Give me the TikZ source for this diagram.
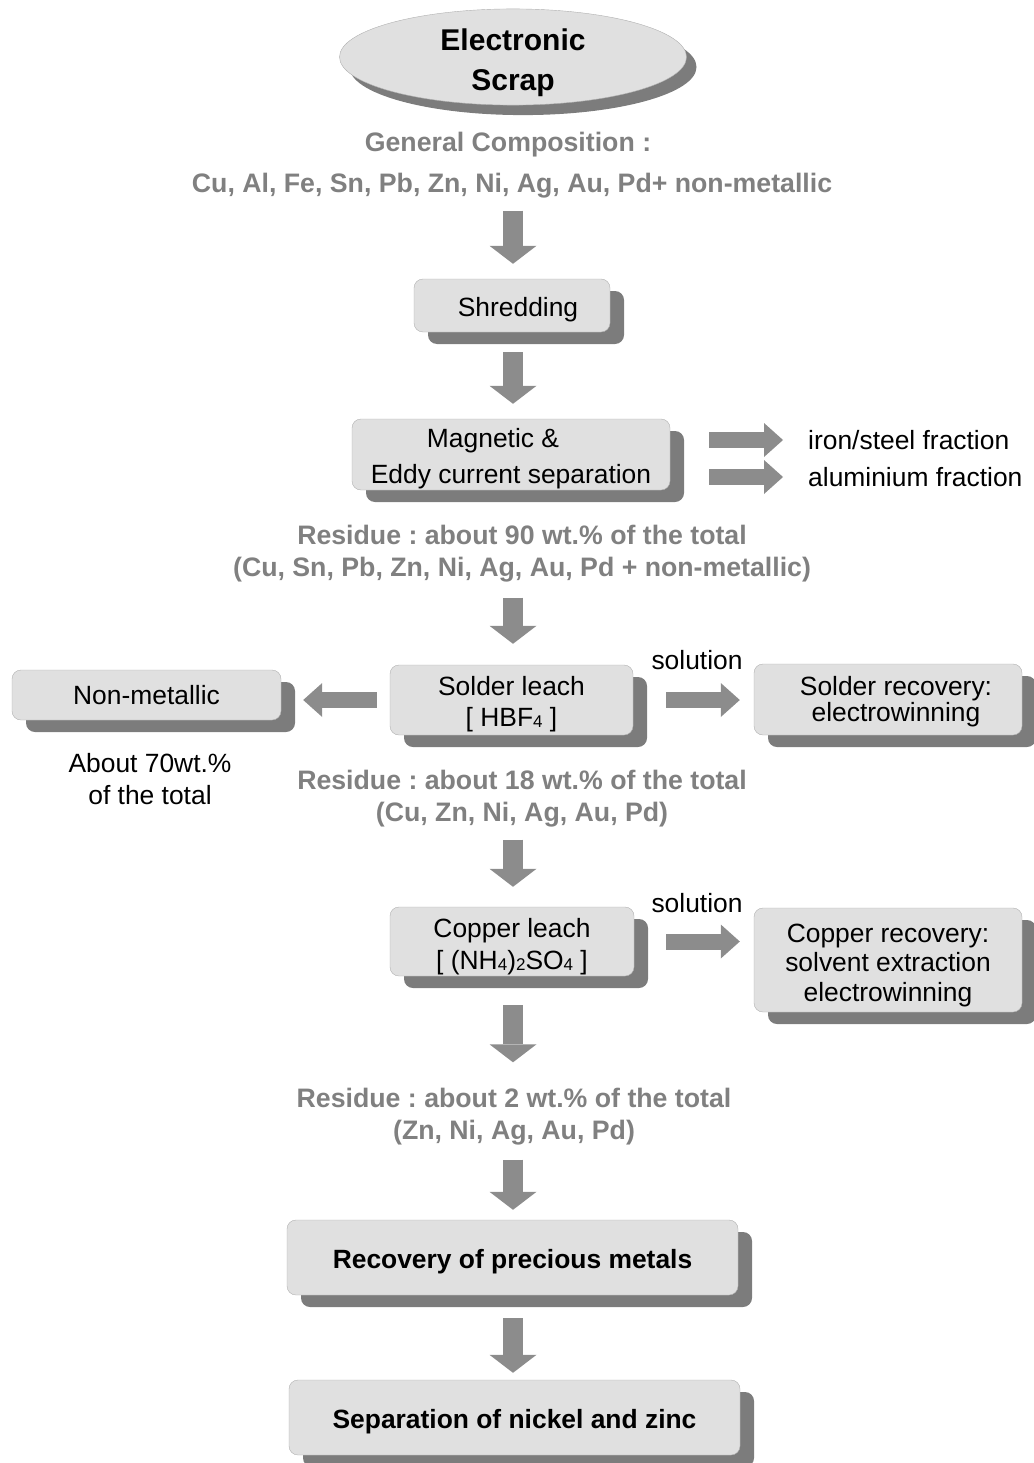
\documentclass[tikz,border=0pt]{standalone}
\usepackage{fontspec}
\setmainfont{Liberation Sans}
\usetikzlibrary{arrows.meta,shapes.geometric,shadows}
\definecolor{boxgray}{HTML}{E0E0E0}
\definecolor{edgegray}{HTML}{B0B0B0}
\definecolor{shadowgray}{HTML}{7C7C7C}
\definecolor{arrowgray}{HTML}{8C8C8C}
\definecolor{notegray}{HTML}{808080}
\newcommand\sub[1]{\raisebox{-1.5pt}{\fontsize{17}{17}\selectfont #1}}
\frenchspacing
\begin{document}
\begin{tikzpicture}[x=1pt, y=-1pt,
  every node/.style={font=\fontsize{26.4}{32}\selectfont, inner sep=0pt, align=center},
  stepbox/.style={draw=edgegray, fill=boxgray, rounded corners=9pt,
    general shadow={fill=shadowgray, shadow xshift=14pt, shadow yshift=-12pt}},
  note/.style={text=notegray, font=\fontsize{26.7}{32}\selectfont\bfseries},
  flow/.style={draw=arrowgray, line width=20pt,
    -{Triangle[width=47pt, length=18pt, line width=0pt]}},
  sideflow/.style={draw=arrowgray, line width=16pt,
    -{Triangle[width=34pt, length=19pt, line width=0pt]}}]
  \useasboundingbox (0,0) rectangle (1033,1463);
  \coordinate (axis) at (513,0);
  % main column
  \node[ellipse, draw=edgegray, fill=boxgray, minimum width=347pt, minimum height=88pt,
    general shadow={fill=shadowgray, shadow xshift=10pt, shadow yshift=-10pt},
    text height=68pt, text depth=-8pt, font=\fontsize{30}{36}\selectfont\bfseries] (scrap) at (513,57) {Electronic\\[4pt]Scrap};
  \node[note] (comphead) at (508,145) {General Composition :};
  \node[note] (complist) at (512,186) {Cu, Al, Fe, Sn, Pb, Zn, Ni, Ag, Au, Pd+ non-metallic};
  \node[stepbox, minimum width=196pt, minimum height=53pt, text height=27pt] (shred) at (512,305.5) {\hspace*{12pt}Shredding};
  \node[stepbox, minimum width=318pt, minimum height=71pt, text height=63pt] (mag) at (511,454.5)
    {Magnetic \&\hspace*{36pt}\\[4pt]Eddy current separation};
  \node[anchor=west] (iron) at (808,440) {iron/steel fraction};
  \node[anchor=west] (alum) at (808,477) {aluminium fraction};
  \node[note] (resid1) at (522,554) {Residue : about 90 wt.\% of the total\\(Cu, Sn, Pb, Zn, Ni, Ag, Au, Pd + non-metallic)};
  \node[stepbox, minimum width=243pt, minimum height=70pt, text height=58pt] (solder) at (511.5,700) {Solder leach\\[-1pt][ HBF\sub{4} ]};
  \node[stepbox, minimum width=269pt, minimum height=50pt] (nonmet) at (146.5,695) {Non-metallic};
  \node (about) at (150,779) {About 70wt.\%\\of the total};
  \node (sol1) at (697,660) {solution};
  \node[stepbox, minimum width=268pt, minimum height=71pt, text height=49pt] (solrec) at (888,699.5)
    {\hspace*{16pt}Solder recovery:\\[-6pt]\hspace*{16pt}electrowinning};
  \node[note] (resid2) at (522,799) {Residue : about 18 wt.\% of the total\\(Cu, Zn, Ni, Ag, Au, Pd)};
  \node[stepbox, minimum width=244pt, minimum height=69pt, text height=61pt] (copper) at (512,941.5)
    {Copper leach\\{}[ (NH\sub{4})\sub{2}SO\sub{4} ]};
  \node (sol2) at (697,903) {solution};
  \node[stepbox, minimum width=268pt, minimum height=104pt, text height=88pt] (cuprec) at (888,960)
    {Copper recovery:\\[-2.5pt]solvent extraction\\[-2.5pt]electrowinning};
  \node[note] (resid3) at (514,1117) {Residue : about 2 wt.\% of the total\\(Zn, Ni, Ag, Au, Pd)};
  \node[stepbox, minimum width=451pt, minimum height=75pt, text height=27pt, font=\fontsize{26.4}{32}\selectfont\bfseries]
    (precious) at (512.5,1257.5) {Recovery of precious metals};
  \node[stepbox, minimum width=451pt, minimum height=75pt, text height=27pt, font=\fontsize{26.4}{32}\selectfont\bfseries]
    (sepnz) at (514.5,1417.5) {Separation of nickel and zinc};
  % connectors
  \draw[flow, shorten <=12pt, shorten >=15pt] (complist.south -| axis) -- (shred.north -| axis);
  \draw[flow, shorten <=20pt, shorten >=15pt] (shred.south -| axis) -- (mag.north -| axis);
  \draw[flow, shorten <=15pt, shorten >=21pt] (resid1.south -| axis) -- (solder.north -| axis);
  \draw[flow, shorten <=12pt, shorten >=20pt] (resid2.south -| axis) -- (copper.north -| axis);
  \draw[flow, shorten <=29pt, shorten >=26pt] (copper.south -| axis) -- (resid3.north -| axis);
  \draw[flow, shorten <=14pt, shorten >=10pt] (resid3.south -| axis) -- (precious.north -| axis);
  \draw[flow, shorten <=23pt, shorten >=7pt] (precious.south -| axis) -- (sepnz.north -| axis);
  \draw[sideflow, shorten <=39pt, shorten >=25pt] (mag.east |- iron.west) -- (iron.west);
  \draw[sideflow, shorten <=39pt, shorten >=25pt] (mag.east |- alum.west) -- (alum.west);
  \draw[sideflow, shorten <=13pt, shorten >=22pt] (solder.west) -- (nonmet.east |- solder.west);
  \draw[sideflow, shorten <=33pt, shorten >=14pt] (solder.east) -- (solrec.west |- solder.east);
  \draw[sideflow, shorten <=32pt, shorten >=14pt] (copper.east) -- (cuprec.west |- copper.east);
\end{tikzpicture}
\end{document}
